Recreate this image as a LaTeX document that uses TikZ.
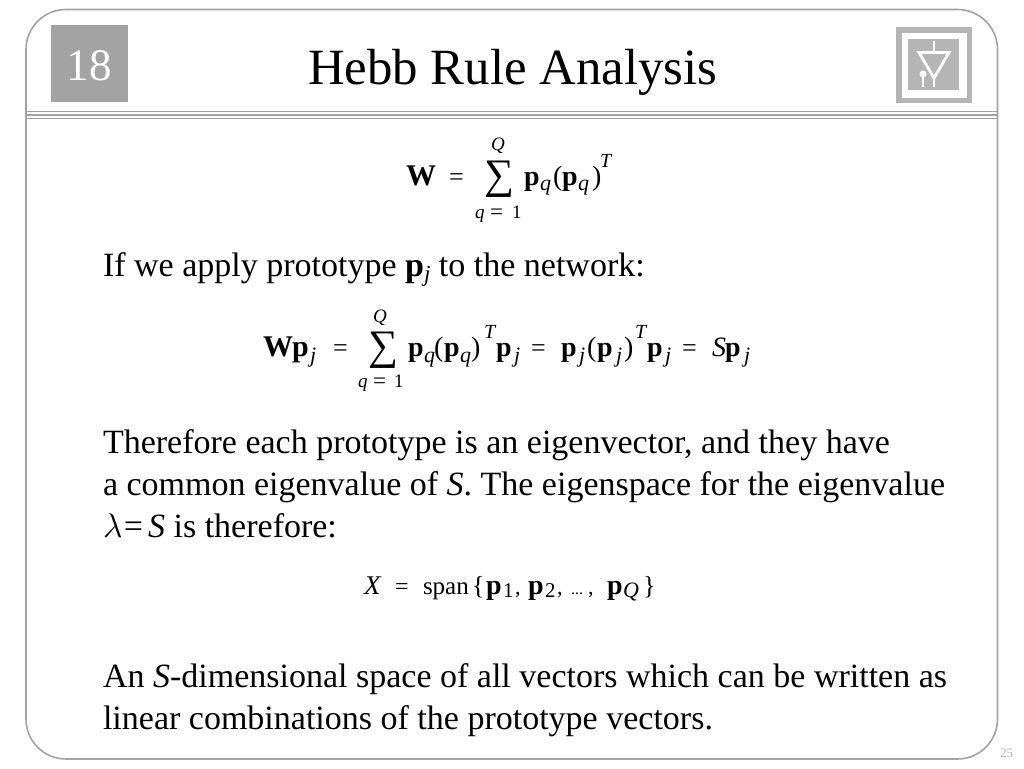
\documentclass[tikz,border=0pt]{standalone}
\usepackage{fontspec}
\setmainfont{Liberation Serif}
\newcounter{pc}
\newcommand{\fz}[1]{\fontsize{#1}{#1}\selectfont}
\newcommand{\tx}[4]{\stepcounter{pc}\node[txt,font=\fz{#3}] (t\arabic{pc}) at (#1,#2) {#4};}
\newcommand{\bd}[1]{\textbf{#1}}
\newcommand{\ita}[1]{\textit{#1}}
\definecolor{fr}{HTML}{A3A3A3}
\definecolor{ic}{HTML}{B5B5B5}
\begin{document}
\begin{tikzpicture}[x=1pt,y=-1pt,
  txt/.style={anchor=base west,inner sep=0pt,outer sep=0pt,text=black},
  frameline/.style={draw=fr,line width=1.6pt},
  iconline/.style={draw=white,line width=2.8pt}]
\useasboundingbox (0,0) rectangle (1024,768);
\fill[white] (0,0) rectangle (1024,768);
% frame
\draw[frameline,rounded corners=40pt] (26,9.5) rectangle (997.5,759);
\draw[draw=fr,line width=1pt] (26,111.5) -- (998,111.5);
\draw[draw=fr,line width=2pt] (26,115) -- (998,115);
\draw[draw=fr,line width=1pt] (26,118.5) -- (998,118.5);
% chapter box
\node[fill=fr,minimum width=77pt,minimum height=77pt,inner sep=0pt,anchor=north west] (chap) at (51,25) {};
\stepcounter{pc}\node[txt,font=\fz{45},text=white] (num) at (66.5,80) {18};
% icon
\fill[ic] (896,27) rectangle (972,103);
\fill[white] (902,33) rectangle (967,98);
\fill[ic] (908,39) rectangle (959,90);
\draw[iconline,line join=miter] (919,52.5) -- (949,52.5) -- (934,78) -- cycle;
\draw[iconline] (934,41) -- (934,52) (934,77) -- (934,87);
\draw[iconline] (923,75) -- (923,87);
\fill[white] (923,74) circle (3.5);
% title
\tx{308}{84}{50.8}{Hebb Rule Analysis}
% formula 1
\tx{406}{185}{30}{\bd{W}}
\tx{449}{185}{26}{=}
\tx{484}{188}{42}{∑}
\tx{491}{150}{19}{\ita{Q}}
\tx{475}{218}{19}{\ita{q}}
\tx{490}{219}{23}{=}
\tx{512}{218}{19}{1}
\tx{524}{185}{28}{\bd{p}}
\tx{540}{190}{22}{\ita{q}}
\tx{553}{185}{28}{(}
\tx{562}{185}{28}{\bd{p}}
\tx{578}{190}{22}{\ita{q}}
\tx{592}{185}{28}{)}
\tx{600}{167}{20}{\ita{T}}
% line
\tx{103}{276}{34}{If we apply prototype \bd{p}\raisebox{-5pt}{\fz{23}\ita{j}} to the network:}
% formula 2
\tx{263}{356}{30}{\bd{W}}
\tx{292}{356}{30}{\bd{p}}
\tx{310}{362}{22}{\ita{j}}
\tx{333}{356}{26}{=}
\tx{368}{359}{42}{∑}
\tx{373}{322}{19}{\ita{Q}}
\tx{358}{387}{19}{\ita{q}}
\tx{373}{388}{23}{=}
\tx{394}{387}{19}{1}
\tx{408}{356}{28}{\bd{p}}
\tx{424}{362}{22}{\ita{q}}
\tx{434}{356}{28}{(}
\tx{444}{356}{28}{\bd{p}}
\tx{460}{362}{22}{\ita{q}}
\tx{471}{356}{28}{)}
\tx{484}{338}{20}{\ita{T}}
\tx{496}{356}{28}{\bd{p}}
\tx{514}{362}{22}{\ita{j}}
\tx{531}{356}{26}{=}
\tx{561}{356}{28}{\bd{p}}
\tx{579}{362}{22}{\ita{j}}
\tx{587}{356}{28}{(}
\tx{597}{356}{28}{\bd{p}}
\tx{616}{362}{22}{\ita{j}}
\tx{624}{356}{28}{)}
\tx{635}{338}{20}{\ita{T}}
\tx{647}{356}{28}{\bd{p}}
\tx{665}{362}{22}{\ita{j}}
\tx{682}{356}{26}{=}
\tx{712}{356}{28}{\ita{S}}
\tx{725}{356}{28}{\bd{p}}
\tx{744}{362}{22}{\ita{j}}
% paragraph
\tx{103}{453}{34}{Therefore each prototype is an eigenvector, and they have}
\tx{103}{495}{34}{a common eigenvalue of \ita{S}. The eigenspace for the eigenvalue}
\tx{103}{537}{34}{\scalebox{1.37}{\fz{24.88}$\lambda$}\kern1.5pt=\kern5pt\ita{S} is therefore:}
% formula 3
\tx{364}{594}{27}{\ita{X}}
\tx{395}{594}{24}{=}
\tx{423}{594}{25}{span}
\tx{472}{594}{26}{\{}
\tx{486}{594}{28}{\bd{p}}
\tx{503}{597}{21}{1}
\tx{515}{594}{22}{,}
\tx{528}{594}{28}{\bd{p}}
\tx{545}{597}{21}{2}
\tx{557}{594}{22}{,}
\tx{571}{594}{16}{...}
\tx{588}{594}{22}{,}
\tx{607}{594}{28}{\bd{p}}
\tx{623}{597}{22}{\ita{Q}}
\tx{643}{594}{26}{\}}
% closing
\tx{103}{687}{34}{An \ita{S}-dimensional space of all vectors which can be written as}
\tx{103}{729}{34}{linear combinations of the prototype vectors.}
\stepcounter{pc}\node[txt,font=\fz{13},text=ic] (pg) at (1000,757) {25};
\end{tikzpicture}
\end{document}
